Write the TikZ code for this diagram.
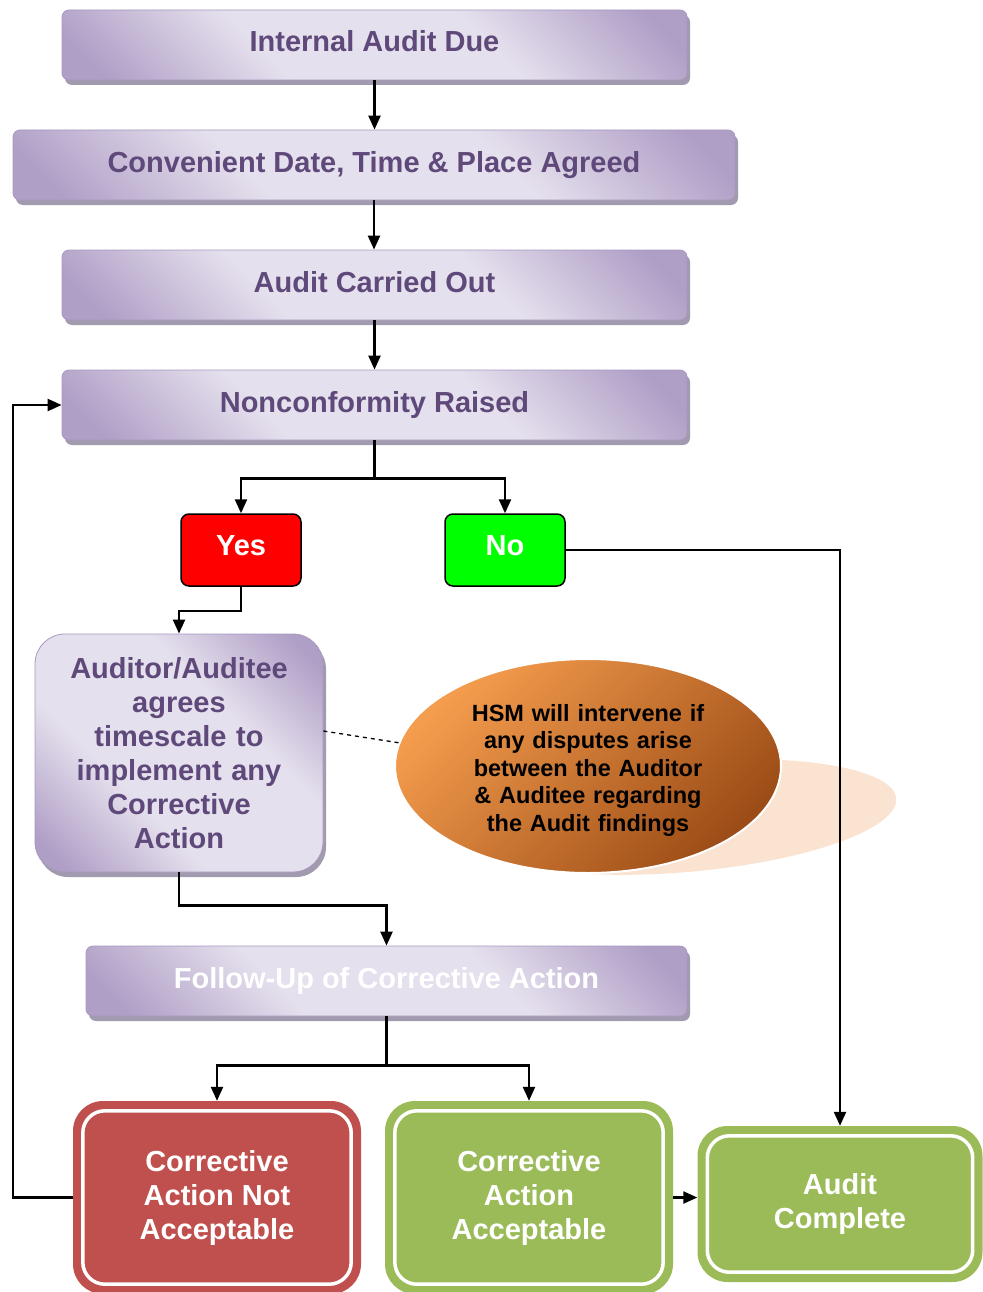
\documentclass[tikz,border=0pt]{standalone}
\usepackage{fontspec}
\setmainfont{Liberation Sans}
\usetikzlibrary{shapes.geometric,arrows.meta,calc,shadows}

\definecolor{purtext}{HTML}{5F497A}
\definecolor{purdark}{HTML}{AF9EC6}
\definecolor{purlight}{HTML}{E5E0ED}
\definecolor{purborder}{HTML}{A898BE}
\definecolor{purshadow}{HTML}{A29AAE}
\definecolor{redbox}{HTML}{C0504D}
\definecolor{greenbox}{HTML}{9BBB59}
\definecolor{orlight}{HTML}{F59D4E}
\definecolor{ordark}{HTML}{9C4C16}
\definecolor{peach}{HTML}{FBE3D2}

% light band along one diagonal, darker towards the two other corners
\pgfdeclareverticalshading{purband}{100bp}{color(0bp)=(purdark); color(19bp)=(purdark);
  color(38bp)=(purlight); color(62bp)=(purlight); color(81bp)=(purdark); color(100bp)=(purdark)}

\tikzset{
  boxfont/.style={font=\fontsize{29}{34}\selectfont\bfseries},
  stepbox/.style={rectangle, rounded corners=7pt, minimum height=70pt, inner sep=0pt,
    shading=purband, shading angle=-45, draw=purborder, line width=0.8pt,
    text=purtext, boxfont, text height=20pt, text depth=6pt,
    drop shadow={shadow xshift=3pt, shadow yshift=-5pt, fill=purshadow, opacity=1}},
  choice/.style={rectangle, rounded corners=8pt, draw=black, line width=1.5pt,
    minimum width=120pt, minimum height=72pt, fill=#1, text=white, boxfont,
    text height=20pt, text depth=9pt},
  ringbox/.style={rectangle, rounded corners=30pt, inner sep=0pt, fill=#1, text=white,
    boxfont, align=center},
  ring/.style={draw=white, line width=3.5pt, rounded corners=22pt},
  flow/.style={draw=black, line width=2.3pt, -{Triangle[length=14pt,width=12pt]}},
  link/.style={draw=black, line width=2.3pt},
}

\begin{document}
\begin{tikzpicture}[x=1pt, y=-1pt]
\useasboundingbox (0,0) rectangle (982,1292);

% main steps
\node[stepbox, minimum width=625pt] (due)   at (374.5,45)  {Internal Audit Due};
\node[stepbox, minimum width=722pt] (agree) at (374,165)   {Convenient Date, Time \& Place Agreed};
\node[stepbox, minimum width=625pt] (done1) at (374.5,285) {Audit Carried Out};
\node[stepbox, minimum width=625pt] (nc)    at (374.5,405) {Nonconformity Raised};

% decision
\node[choice=red]   (yes) at (241,550) {Yes};
\node[choice=green] (no)  at (505,550) {No};

% auditor / auditee agreement
\node[stepbox, rounded corners=30pt, minimum width=288pt, minimum height=238pt,
      text width=280pt, align=center, text height=, text depth=] (aud) at (179,753)
  {Auditor/Auditee\\agrees\\timescale to\\implement any\\Corrective\\Action};

% HSM note with its shadow
\fill[peach, rotate around={5:(685,817)}] (685,817) ellipse [x radius=212pt, y radius=55pt];
\node[ellipse, minimum width=386pt, minimum height=214pt, inner sep=0pt,
      draw=white, line width=2pt, top color=orlight, bottom color=ordark, shading angle=45,
      text width=240pt, align=center, text=black,
      font=\fontsize{23.5}{27.5}\selectfont\bfseries] (hsm) at (588,766)
  {\rule{0pt}{25pt}HSM will intervene if\\any disputes arise\\between the Auditor\\\& Auditee regarding\\the Audit findings};

% follow-up
\node[stepbox, minimum width=601pt, text=white] (fu) at (386.5,981) {Follow-Up of Corrective Action};

% outcomes
\node[ringbox=redbox, minimum width=288pt, minimum height=193pt] (bad) at (217,1197.5)
  {Corrective\\Action Not\\Acceptable};
\node[ringbox=greenbox, minimum width=288pt, minimum height=193pt] (good) at (529,1197.5)
  {Corrective\\Action\\Acceptable};
\node[ringbox=greenbox, minimum width=285pt, minimum height=156pt] (fin) at (840,1204)
  {Audit\\Complete};
\foreach \b in {bad,good,fin}
  \draw[ring] ($(\b.north west)+(10,10)$) rectangle ($(\b.south east)+(-10,-10)$);

% connectors
\draw[flow] (due.south) -- (due.south |- agree.north);
\draw[flow] (agree.south) -- (agree.south |- done1.north);
\draw[flow] (done1.south) -- (done1.south |- nc.north);

\coordinate (split1) at ($(nc.south)+(0,38)$);
\draw[link] (nc.south) -- (split1);
\draw[flow] (split1) -| (yes.north);
\draw[flow] (split1) -| (no.north);

\draw[flow] (yes.south) -- ++(0,24) -| (aud.north);
\draw[flow] (no.east) -| (fin.north);

\draw[line width=1.3pt, dash pattern=on 4pt off 4pt] ($(aud.east)+(0,-22)$) -- (hsm.173);

\draw[flow] (aud.south) -- ++(0,33) -| (fu.north);

\coordinate (split2) at ($(fu.south)+(0,49)$);
\draw[link] (fu.south) -- (split2);
\draw[flow] (split2) -| (bad.north);
\draw[flow] (split2) -| (good.north);

\draw[flow] (good.east) -- (good.east -| fin.west);
\draw[flow] (bad.west) -- ++(-60,0) |- (nc.west);
\end{tikzpicture}
\end{document}
